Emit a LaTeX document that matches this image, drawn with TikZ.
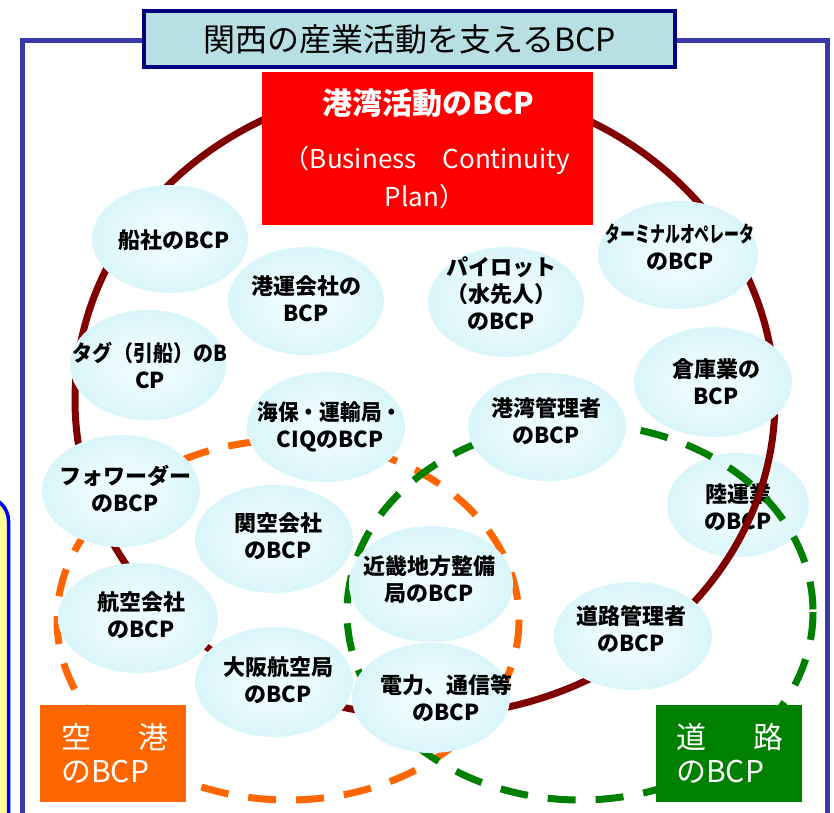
\documentclass[tikz,border=0pt]{standalone}
\usepackage{fontspec}
\setmainfont{Noto Sans CJK JP}
\usetikzlibrary{shapes.geometric}
\definecolor{framec}{RGB}{58,58,168}
\definecolor{titlefill}{RGB}{184,224,228}
\definecolor{titleborder}{RGB}{0,0,128}
\definecolor{portred}{RGB}{255,0,0}
\definecolor{ringred}{RGB}{128,0,0}
\definecolor{airorange}{RGB}{255,102,0}
\definecolor{roadgreen}{RGB}{0,128,0}
\definecolor{ecin}{RGB}{236,251,253}
\definecolor{ecout}{RGB}{196,240,247}
\definecolor{sideyellow}{RGB}{255,255,153}
\pgfdeclareradialshading{ellshade}{\pgfpoint{0bp}{0bp}}{color(0bp)=(ecin); color(10bp)=(ecin); color(42bp)=(ecout); color(100bp)=(ecout)}
\newcommand\ellbox[8]{%
  \node[ell, minimum width=#4pt, minimum height=#5pt] (#1) at (#2,#3) {};
  \node[etext] (#1t) at (#7,#8) {#6};}
\begin{document}
\begin{tikzpicture}[x=1pt,y=-1pt,
  ell/.style={ellipse, draw=none, shading=ellshade, inner sep=0pt},
  etext/.style={align=center, font=\fontsize{22}{27}\selectfont\bfseries, text=black, inner sep=0pt},
  ring/.style={draw=ringred, line width=7pt},
  airdash/.style={draw=airorange, line width=7pt, dash pattern=on 28pt off 20pt},
  roaddash/.style={draw=roadgreen, line width=7pt, dash pattern=on 28pt off 20pt},
  titlebox/.style={draw=titleborder, line width=4pt, fill=titlefill, inner sep=0pt, font=\fontsize{32}{36}\selectfont},
  plainbox/.style={draw=none, inner sep=0pt},
  whitetext/.style={text=white, inner sep=0pt}]
\useasboundingbox (0,0) rectangle (834,812);
\begin{scope}
\clip (0,0) rectangle (834,812);
\draw[draw=blue, line width=3.5pt, fill=sideyellow, rounded corners=24pt] (-80,497) rectangle (8.5,900);
\draw[framec, line width=5pt] (22.5,900) -- (22.5,40.5) -- (827,40.5) -- (827,900);
% land transport ellipse lies under the ring and the road ring
\ellbox{rikuun}{738}{505}{142}{104}{陸運業\\のBCP}{738}{507}
\draw[ring] (425,400) ellipse [x radius=350, y radius=316];
\draw[airdash] (288,620) ellipse [x radius=231, y radius=180];
\draw[roaddash] (580,612) ellipse [x radius=233, y radius=188];
\ellbox{senshya}{170}{239}{156}{108}{船社のBCP}{174}{240}
\ellbox{kouun}{306}{301}{156}{108}{港運会社の\\BCP}{306}{299}
\ellbox{pilot}{506}{302}{156}{110}{\fontsize{22}{29}\selectfont パイロット\\（水先人）\\のBCP}{501}{294}
\ellbox{terminal}{678}{255}{160}{108}{\scalebox{0.68}[1]{ターミナルオペレータ}\\のBCP}{680}{247}
\ellbox{souko}{713}{382}{158}{110}{倉庫業の\\BCP}{716}{382}
\ellbox{kanri}{547}{427}{158}{108}{港湾管理者\\のBCP}{546}{421}
\ellbox{tug}{148}{365}{156}{110}{\scalebox{0.91}[1]{タグ（引船）のB}\\CP}{150}{365}
\ellbox{kaiho}{326}{427}{158}{110}{\scalebox{0.94}[1]{海保・運輸局・}\\CIQのBCP}{330}{427}
\ellbox{forwarder}{121}{491}{158}{112}{フォワーダー\\のBCP}{125}{489}
\ellbox{kankuu}{274}{539}{158}{108}{関空会社\\のBCP}{278}{536}
\ellbox{kouku}{138}{618}{160}{110}{航空会社\\のBCP}{141}{615}
\ellbox{kinki}{431}{584}{164}{116}{近畿地方整備\\局のBCP}{429}{580}
\ellbox{osaka}{274}{682}{158}{110}{大阪航空局\\のBCP}{278}{680}
\ellbox{denryoku}{431}{698}{158}{110}{電力、通信等\\のBCP}{446}{698}
\ellbox{road}{633}{636}{158}{108}{道路管理者\\のBCP}{631}{629}
% title boxes
\node[titlebox, minimum width=531pt, minimum height=56pt] (title) at (409.5,39) {関西の産業活動を支えるBCP};
\node[plainbox, fill=portred, minimum width=331pt, minimum height=153pt] (port) at (427.5,148.5) {};
\node[whitetext, font=\fontsize{30}{34}\selectfont\bfseries] (port1) at (428,103) {港湾活動のBCP};
\node[whitetext, font=\fontsize{26}{30}\selectfont] (port2) at (427,160) {（Business　Continuity};
\node[whitetext, font=\fontsize{26}{30}\selectfont] (port3) at (425,197) {Plan）};
\node[plainbox, fill=airorange, minimum width=146pt, minimum height=97pt] (air) at (113,753.5) {};
\node[whitetext, anchor=west, font=\fontsize{30}{34}\selectfont] (air1) at (61,737) {空\hspace{47pt}港};
\node[whitetext, anchor=west, font=\fontsize{30}{34}\selectfont] (air2) at (61,772) {のBCP};
\node[plainbox, fill=roadgreen, minimum width=146pt, minimum height=97pt] (roadbox) at (729,753.5) {};
\node[whitetext, anchor=west, font=\fontsize{30}{34}\selectfont] (road1) at (676,737) {道\hspace{47pt}路};
\node[whitetext, anchor=west, font=\fontsize{30}{34}\selectfont] (road2) at (676,772) {のBCP};
\end{scope}
\end{tikzpicture}
\end{document}
